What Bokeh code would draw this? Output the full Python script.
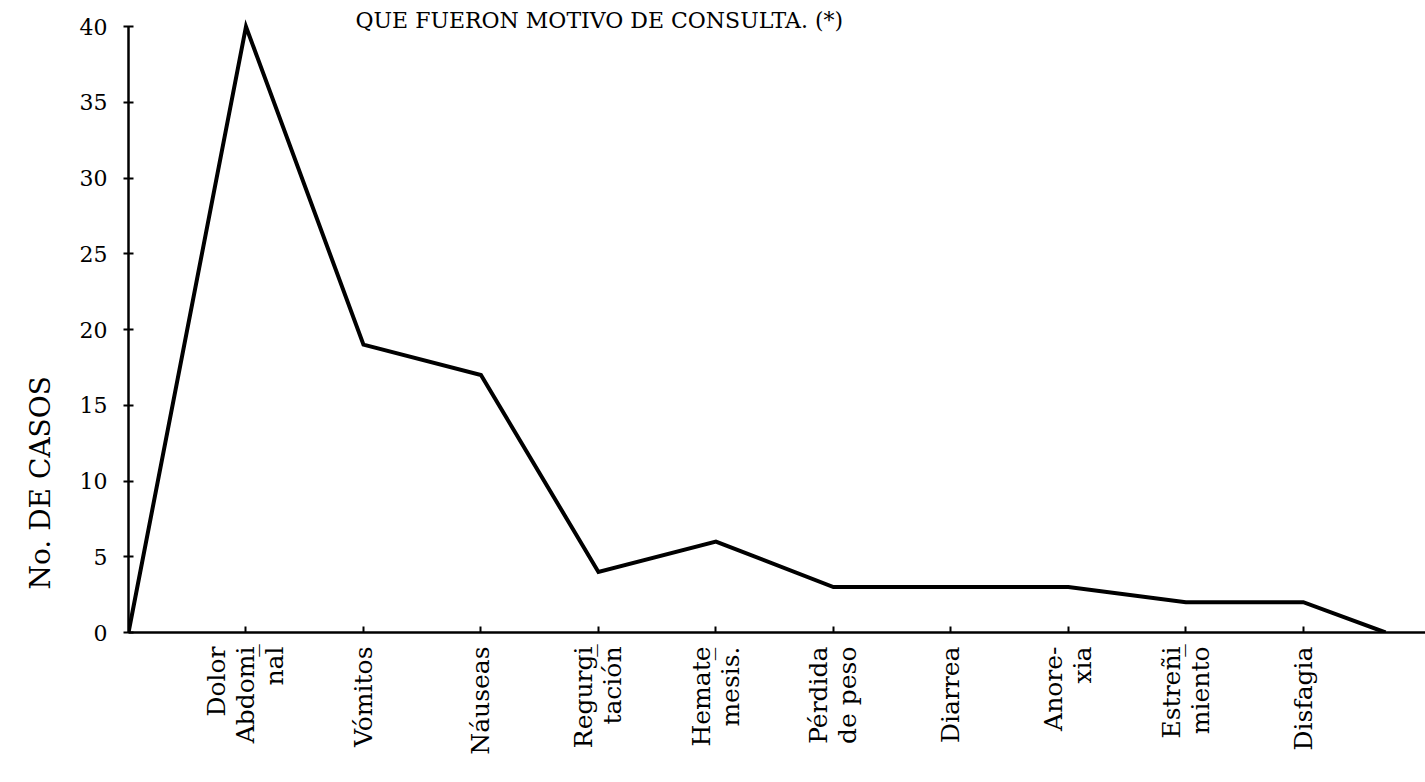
import math
from bokeh.plotting import figure
from bokeh.models import ColumnDataSource, FixedTicker, Label, Range1d, Title
from bokeh.embed import file_html
from bokeh.resources import INLINE

# ---- data ----
categories = ["Dolor\nAbdomi\u0332\nnal", "Vómitos", "Náuseas", "Regurgi\u0332\ntación",
              "Hemate\u0332\nmesis.", "Pérdida\nde peso", "Diarrea", "Anore-\nxia",
              "Estreñi\u0332\nmiento", "Disfagia"]
casos = [40, 19, 17, 4, 6, 3, 3, 3, 2, 2]
cat_pos = [1, 2, 3, 4, 5, 6, 7, 8, 9, 10]
# polygon closes to zero at both ends
start_x, end_x = 0, 10.7
y_ticks = [0, 5, 10, 15, 20, 25, 30, 35, 40]
title_text = "QUE FUERON MOTIVO DE CONSULTA. (*)"
y_title = "No. DE CASOS"

FONT = "DejaVu Serif"

line_x = [start_x] + cat_pos + [end_x]
line_y = [0] + casos + [0]
src = ColumnDataSource(dict(x=line_x, y=line_y))

W, H = 1425, 782
left, bottom = 128, 150
x_end = 11.04
y_end = 41.72

p = figure(width=W, height=H, output_backend="svg", toolbar_location=None,
           x_range=Range1d(0, x_end), y_range=Range1d(0, y_end),
           min_border_left=left, min_border_bottom=bottom,
           min_border_top=0, min_border_right=0)
p.outline_line_color = None
p.grid.grid_line_color = None
p.background_fill_color = "white"
p.border_fill_color = "white"

p.line("x", "y", source=src, line_color="black", line_width=4, line_join="miter")

# x axis
xa = p.xaxis[0]
xa.ticker = FixedTicker(ticks=cat_pos)
xa.major_label_overrides = {i: c for i, c in zip(cat_pos, categories)}
xa.major_label_orientation = math.pi / 2
xa.major_label_text_font = FONT
xa.major_label_text_font_size = "25px"
xa.major_label_text_line_height = 1.0
xa.major_label_text_color = "black"
xa.major_label_standoff = 14
xa.axis_line_width = 2.5
xa.axis_line_color = "black"
xa.major_tick_in = 6
xa.major_tick_out = 0
xa.major_tick_line_width = 2
xa.minor_tick_line_color = None

# y axis
ya = p.yaxis[0]
ya.ticker = FixedTicker(ticks=y_ticks)
ya.bounds = (0, 40)
ya.major_label_text_font = FONT
ya.major_label_text_font_size = "22px"
ya.major_label_text_color = "black"
ya.major_label_standoff = 16
ya.axis_line_width = 2.5
ya.axis_line_color = "black"
ya.major_tick_in = 5
ya.major_tick_out = 5
ya.major_tick_line_width = 2
ya.minor_tick_line_color = None

# y axis title, on the left side
p.add_layout(Title(text=y_title, align="left", offset=43, standoff=40,
                   text_font=FONT, text_font_size="28px", text_font_style="normal",
                   text_color="black"), "left")

# title at the very top
px_per_x = (W - left) / x_end
px_per_y = (H - bottom) / y_end
p.add_layout(Label(x=(355 - left) / px_per_x, y=(H - bottom - 20) / px_per_y,
                   text=title_text, text_font=FONT, text_font_size="22px",
                   text_color="black", text_baseline="alphabetic", text_align="left"))

open("out.html", "w").write(file_html(p, INLINE))
